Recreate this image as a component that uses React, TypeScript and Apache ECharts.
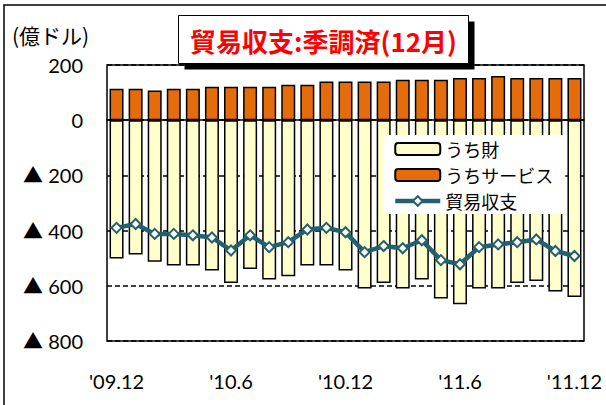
import React, { useEffect, useRef } from "react";
import * as echarts from "echarts";

const categories = [
  "'09.12", "'10.1", "'10.2", "'10.3", "'10.4", "'10.5", "'10.6", "'10.7", "'10.8", "'10.9", "'10.10", "'10.11", "'10.12",
  "'11.1", "'11.2", "'11.3", "'11.4", "'11.5", "'11.6", "'11.7", "'11.8", "'11.9", "'11.10", "'11.11", "'11.12",
];
const goods = [-501, -487, -513, -526, -526, -545, -590, -539, -577, -565, -526, -526, -545, -610, -590, -610, -577, -646, -667, -610, -610, -590, -583, -621, -641];
const services = [114, 114, 108, 114, 114, 121, 121, 121, 121, 128, 128, 140, 140, 140, 140, 147, 147, 147, 153, 153, 160, 153, 153, 153, 153];
const balance = [-390, -376, -412, -412, -417, -425, -472, -417, -460, -442, -396, -390, -406, -478, -456, -464, -435, -507, -522, -460, -450, -442, -432, -474, -492];
const yTicks = { min: -800, max: 200, interval: 200 };

const NUM_FONT = "Lato, 'Noto Sans CJK JP', sans-serif";
const JP_FONT = "'Noto Sans CJK JP', sans-serif";
const TEAL = "#22606F";

export default function App() {
  const ref = useRef<HTMLDivElement>(null);
  useEffect(() => {
    if (!ref.current) return;
    const chart = echarts.init(ref.current, undefined, { renderer: "svg" });
    chart.setOption({
      animation: false,
      grid: { left: 107, right: 22, top: 65, bottom: 64, show: true, borderColor: "#000", borderWidth: 1.5, backgroundColor: "transparent" },
      xAxis: [
        {
          type: "category",
          data: categories,
          position: "bottom",
          axisLine: { onZero: false, show: false },
          axisTick: { show: false },
          axisLabel: { interval: 5, margin: 30, fontSize: 20, color: "#000", fontFamily: NUM_FONT },
        },
        {
          type: "category",
          data: categories,
          position: "bottom",
          axisLine: { onZero: true, show: true, lineStyle: { color: "#000", width: 1.5 } },
          axisTick: { show: false },
          axisLabel: { show: false },
        },
      ],
      yAxis: {
        type: "value",
        min: yTicks.min,
        max: yTicks.max,
        interval: yTicks.interval,
        axisLine: { show: false },
        axisTick: { show: false },
        splitLine: { show: true, lineStyle: { color: "#000", type: [5, 3], width: 1.5 } },
        axisLabel: {
          margin: 24,
          fontSize: 20,
          color: "#000",
          fontFamily: NUM_FONT,
          formatter: (v: number) => (v < 0 ? "▲ " + Math.abs(v) : String(v)),
        },
      },
      legend: {
        orient: "vertical",
        left: 383,
        top: 135,
        padding: [5, 12, 4, 10],
        backgroundColor: "#fff",
        itemWidth: 45,
        itemHeight: 12,
        itemGap: 8,
        textStyle: { fontSize: 18, lineHeight: 18, color: "#000", fontFamily: JP_FONT },
        data: [
          "うち財",
          "うちサービス",
          { name: "貿易収支", lineStyle: { width: 4.5, color: TEAL } },
        ],
      },
      series: [
        {
          name: "うち財",
          type: "bar",
          stack: "s",
          data: goods,
          barWidth: 14,
          itemStyle: { color: "#FFFFCC", borderColor: "#000", borderWidth: 1.5 },
        },
        {
          name: "うちサービス",
          type: "bar",
          stack: "s",
          data: services,
          barWidth: 14,
          itemStyle: { color: "#E46C0A", borderColor: "#000", borderWidth: 1.5 },
        },
        {
          name: "貿易収支",
          type: "line",
          data: balance,
          symbol: "diamond",
          symbolSize: 10,
          lineStyle: { color: TEAL, width: 4.5 },
          itemStyle: { color: "#fff", borderColor: TEAL, borderWidth: 2 },
          z: 5,
        },
      ],
      graphic: [
        { type: "rect", shape: { x: 4, y: 5, width: 640, height: 440 }, style: { fill: "none", stroke: "#000", lineWidth: 1.5 }, silent: true },
        { type: "rect", shape: { x: 184.5, y: 21.5, width: 290, height: 48 }, style: { fill: "#000" }, silent: true },
        { type: "rect", shape: { x: 178.5, y: 15.5, width: 290, height: 48 }, style: { fill: "#fff", stroke: "#000", lineWidth: 1 }, silent: true },
        {
          type: "text",
          x: 323.5,
          y: 40,
          style: {
            text: "貿易収支:季調済(12月)",
            fill: "#FF0000",
            font: "bold 26px 'Noto Sans CJK JP', sans-serif",
            align: "center",
            verticalAlign: "middle",
          },
          silent: true,
        },
        {
          type: "text",
          x: 12,
          y: 35,
          style: {
            text: "(億ドル)",
            fill: "#000",
            font: "21px 'Noto Sans CJK JP', sans-serif",
            align: "left",
            verticalAlign: "middle",
          },
          silent: true,
        },
      ],
    });
    return () => chart.dispose();
  }, []);
  return <div ref={ref} style={{ position: "absolute", left: 0, top: 0, width: 606, height: 405 }} />;
}
